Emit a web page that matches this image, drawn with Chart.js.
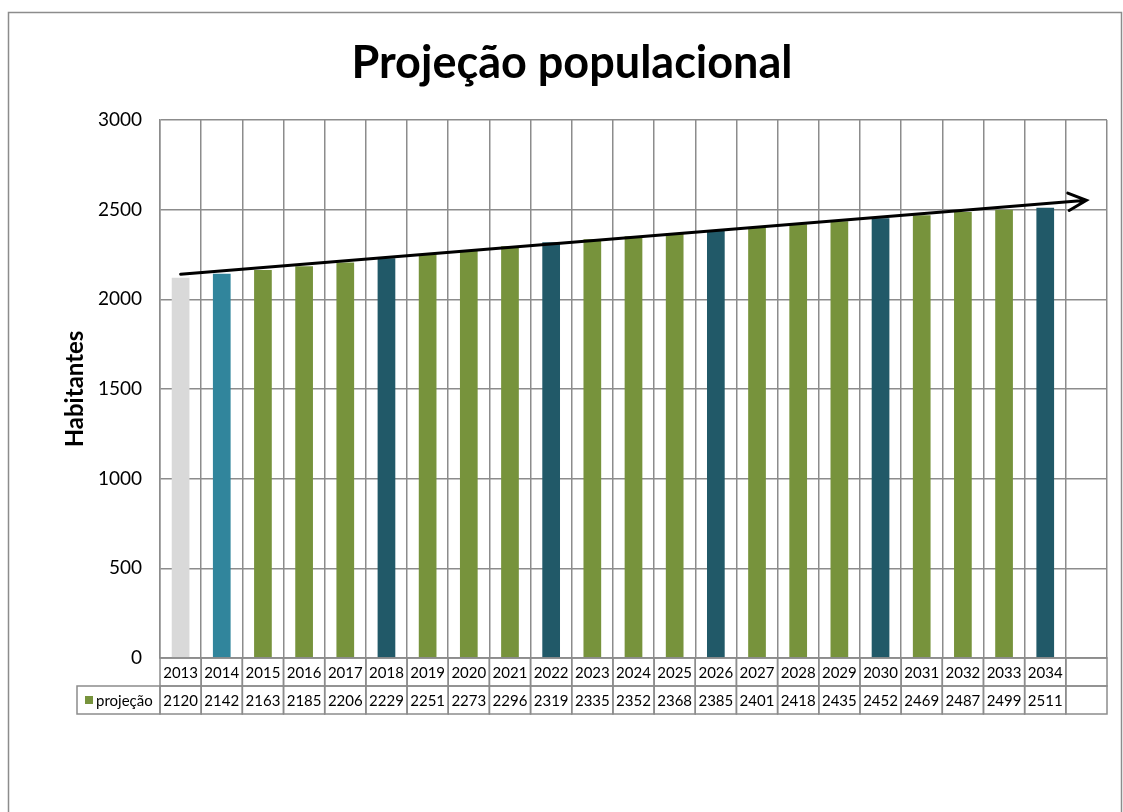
<!DOCTYPE html>
<html>
<head>
<meta charset="utf-8">
<script src="https://cdn.jsdelivr.net/npm/chart.js@4"></script>
<style>
    html, body { margin: 0; padding: 0; background: #fff; }
    #wrap { width: 1123px; height: 812px; }
</style>
</head>
<body>
<div id="wrap"><canvas id="popChart" width="1123" height="812"></canvas></div>
<script>
    "use strict";

    // Dados do gráfico
    var anos = ["2013", "2014", "2015", "2016", "2017", "2018", "2019", "2020", "2021", "2022", "2023",
        "2024", "2025", "2026", "2027", "2028", "2029", "2030", "2031", "2032", "2033", "2034", ""];
    var projecao = [2120, 2142, 2163, 2185, 2206, 2229, 2251, 2273, 2296, 2319, 2335,
        2352, 2368, 2385, 2401, 2418, 2435, 2452, 2469, 2487, 2499, 2511, null];
    var yTicks = [0, 500, 1000, 1500, 2000, 2500, 3000];
    // seta de tendência: [índice, valor] início e fim
    var tendenciaInicio = [0, 2140];
    var tendenciaFim = [22, 2552];

    var GRAY = "#d9d9d9", TEAL = "#31859c", GREEN = "#77933c", DARK = "#215968";
    var barColors = [GRAY, TEAL, GREEN, GREEN, GREEN, DARK, GREEN, GREEN, GREEN, DARK, GREEN,
        GREEN, GREEN, DARK, GREEN, GREEN, GREEN, DARK, GREEN, GREEN, GREEN, DARK, GREEN];

    var FONT = "Lato, 'Open Sans', sans-serif";
    var LINE = "#8c8c8c";
    var TITULO = "Projeção populacional";

    // moldura externa + título + seta + tabela de dados
    var extras = {
        id: "extras",
        beforeDraw: function (chart) {
            var c = chart.ctx;
            c.save();
            c.fillStyle = "#fff";
            c.fillRect(0, 0, chart.width, chart.height);
            c.strokeStyle = LINE;
            c.lineWidth = 1.5;
            c.strokeRect(8.5, 12.5, 1113, 830);
            c.fillStyle = "#000";
            c.font = "bold 45px " + FONT;
            c.textAlign = "center";
            c.textBaseline = "middle";
            c.fillText(TITULO, 572, 63);
            c.restore();
        },
        afterDraw: function (chart) {
            var c = chart.ctx;
            var xs = chart.scales.x, ys = chart.scales.y;
            var area = chart.chartArea;
            var w = (area.right - area.left) / anos.length;

            // seta
            var x1 = xs.getPixelForValue(tendenciaInicio[0]), y1 = ys.getPixelForValue(tendenciaInicio[1]);
            var x2 = xs.getPixelForValue(tendenciaFim[0]), y2 = ys.getPixelForValue(tendenciaFim[1]);
            var ang = Math.atan2(y2 - y1, x2 - x1);
            c.save();
            c.strokeStyle = "#000";
            c.lineWidth = 3;
            c.lineCap = "round";
            c.beginPath();
            c.moveTo(x1, y1);
            c.lineTo(x2, y2);
            c.moveTo(x2 - 20 * Math.cos(ang - 0.45), y2 - 20 * Math.sin(ang - 0.45));
            c.lineTo(x2, y2);
            c.lineTo(x2 - 20 * Math.cos(ang + 0.45), y2 - 20 * Math.sin(ang + 0.45));
            c.stroke();
            c.restore();

            // tabela
            var top = area.bottom, rowH = 28;
            c.save();
            c.strokeStyle = LINE;
            c.lineWidth = 1.5;
            c.font = "15px " + FONT;
            c.fillStyle = "#000";
            c.textAlign = "center";
            c.textBaseline = "middle";
            for (var i = 0; i < anos.length; i++) {
                var l = area.left + i * w;
                c.strokeRect(l, top, w, rowH);
                c.strokeRect(l, top + rowH, w, rowH);
                c.fillText(anos[i], l + w / 2, top + rowH / 2 + 1);
                if (projecao[i] !== null) c.fillText(String(projecao[i]), l + w / 2, top + rowH * 1.5 + 1);
            }
            var legL = 77;
            c.strokeRect(legL, top + rowH, area.left - legL, rowH);
            c.fillStyle = GREEN;
            c.fillRect(legL + 8, top + rowH * 1.5 - 4, 8, 8);
            c.fillStyle = "#000";
            c.textAlign = "left";
            c.fillText("projeção", legL + 19, top + rowH * 1.5 + 1);
            c.restore();
        }
    };

    var ctx = document.getElementById("popChart").getContext("2d");
    new Chart(ctx, {
        type: "bar",
        data: {
            labels: anos,
            datasets: [{
                label: "projeção",
                data: projecao,
                backgroundColor: barColors,
                barPercentage: 0.43,
                categoryPercentage: 1
            }]
        },
        options: {
            responsive: false,
            animation: false,
            layout: { padding: { top: 120, left: 0, right: 16, bottom: 0 } },
            plugins: {
                legend: { display: false },
                tooltip: { enabled: false },
                title: { display: false }
            },
            scales: {
                x: {
                    grid: { color: LINE, lineWidth: 1.5, drawTicks: false, offset: true },
                    border: { color: LINE, width: 1.5 },
                    ticks: { display: false },
                    afterFit: function (s) { s.height = 154; }
                },
                y: {
                    min: 0,
                    max: 3000,
                    afterBuildTicks: function (s) { s.ticks = yTicks.map(function (v) { return { value: v }; }); },
                    grid: { color: LINE, lineWidth: 1.5, drawTicks: false },
                    border: { color: LINE, width: 1.5 },
                    ticks: {
                        color: "#000",
                        padding: 18,
                        font: { family: FONT, size: 19 },
                        callback: function (v) { return String(v); }
                    },
                    title: {
                        display: true,
                        text: "Habitantes",
                        color: "#000",
                        font: { family: FONT, size: 24, weight: "bold", lineHeight: 1.2 },
                        padding: { top: 61, bottom: 0 }
                    },
                    afterFit: function (s) { s.width = 160; }
                }
            }
        },
        plugins: [extras]
    });
</script>
</body>
</html>
